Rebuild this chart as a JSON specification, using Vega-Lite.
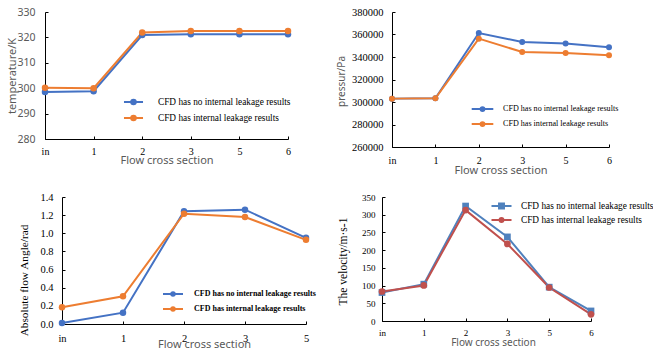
{
  "$schema": "https://vega.github.io/schema/vega-lite/v6.json",
  "background": "white",
  "padding": {"left": 5, "top": 7, "right": 5, "bottom": 0},
  "datasets": {
    "temp": [
      {"section": "in", "series": "CFD has no internal leakage results", "value": 298.5},
      {"section": "1", "series": "CFD has no internal leakage results", "value": 298.8},
      {"section": "2", "series": "CFD has no internal leakage results", "value": 320.9},
      {"section": "3", "series": "CFD has no internal leakage results", "value": 321.2},
      {"section": "5", "series": "CFD has no internal leakage results", "value": 321.2},
      {"section": "6", "series": "CFD has no internal leakage results", "value": 321.2},
      {"section": "in", "series": "CFD has internal leakage results", "value": 300.2},
      {"section": "1", "series": "CFD has internal leakage results", "value": 300.0},
      {"section": "2", "series": "CFD has internal leakage results", "value": 321.9},
      {"section": "3", "series": "CFD has internal leakage results", "value": 322.5},
      {"section": "5", "series": "CFD has internal leakage results", "value": 322.5},
      {"section": "6", "series": "CFD has internal leakage results", "value": 322.5}
    ],
    "pres": [
      {"section": "in", "series": "CFD has no internal leakage results", "value": 303000},
      {"section": "1", "series": "CFD has no internal leakage results", "value": 303300},
      {"section": "2", "series": "CFD has no internal leakage results", "value": 361300},
      {"section": "3", "series": "CFD has no internal leakage results", "value": 353300},
      {"section": "5", "series": "CFD has no internal leakage results", "value": 352100},
      {"section": "6", "series": "CFD has no internal leakage results", "value": 348600},
      {"section": "in", "series": "CFD has internal leakage results", "value": 303000},
      {"section": "1", "series": "CFD has internal leakage results", "value": 303300},
      {"section": "2", "series": "CFD has internal leakage results", "value": 356300},
      {"section": "3", "series": "CFD has internal leakage results", "value": 344400},
      {"section": "5", "series": "CFD has internal leakage results", "value": 343600},
      {"section": "6", "series": "CFD has internal leakage results", "value": 341500}
    ],
    "angle": [
      {"section": "in", "series": "CFD has no internal leakage results", "value": 0.011},
      {"section": "1", "series": "CFD has no internal leakage results", "value": 0.125},
      {"section": "2", "series": "CFD has no internal leakage results", "value": 1.242},
      {"section": "3", "series": "CFD has no internal leakage results", "value": 1.26},
      {"section": "5", "series": "CFD has no internal leakage results", "value": 0.95},
      {"section": "in", "series": "CFD has internal leakage results", "value": 0.184},
      {"section": "1", "series": "CFD has internal leakage results", "value": 0.306},
      {"section": "2", "series": "CFD has internal leakage results", "value": 1.216},
      {"section": "3", "series": "CFD has internal leakage results", "value": 1.179},
      {"section": "5", "series": "CFD has internal leakage results", "value": 0.928}
    ],
    "vel": [
      {"section": "in", "series": "CFD has no internal leakage results", "value": 80.4},
      {"section": "1", "series": "CFD has no internal leakage results", "value": 104},
      {"section": "2", "series": "CFD has no internal leakage results", "value": 324.5},
      {"section": "3", "series": "CFD has no internal leakage results", "value": 237.4},
      {"section": "5", "series": "CFD has no internal leakage results", "value": 95.5},
      {"section": "6", "series": "CFD has no internal leakage results", "value": 28.4},
      {"section": "in", "series": "CFD has internal leakage results", "value": 83.3},
      {"section": "1", "series": "CFD has internal leakage results", "value": 100.3},
      {"section": "2", "series": "CFD has internal leakage results", "value": 313},
      {"section": "3", "series": "CFD has internal leakage results", "value": 217.6},
      {"section": "5", "series": "CFD has internal leakage results", "value": 94.6},
      {"section": "6", "series": "CFD has internal leakage results", "value": 18.9}
    ],
    "none": []
  },
  "spacing": 17,
  "resolve": {"scale": {"color": "independent"}, "legend": {"color": "independent"}},
  "vconcat": [
    {
      "hconcat": [
        {
          "width": 243, "height": 127,
          "data": {"name": "temp"},
          "mark": {"type": "line", "strokeWidth": 2, "point": {"filled": true, "size": 42}},
          "encoding": {
            "x": {"field": "section", "type": "ordinal", "sort": null,
              "scale": {"type": "point", "padding": 0, "domain": ["in", "1", "2", "3", "5", "6"]},
              "axis": {"title": "Flow cross section", "titleFont": "Noto Sans", "titleFontSize": 11, "titleColor": "#595959", "titleBaseline": "middle", "titleY": 21,
                "labelFont": "Liberation Serif", "labelFontSize": 10, "labelColor": "#000", "labelAngle": 0, "labelBaseline": "middle", "labelPadding": 15}},
            "y": {"field": "value", "type": "quantitative",
              "scale": {"domain": [280, 330], "nice": false, "zero": false},
              "axis": {"values": [280, 290, 300, 310, 320, 330], "title": "temperature/K", "titleFont": "Noto Sans", "titleFontSize": 11, "titleColor": "#595959", "titleBaseline": "middle", "titleX": -33,
                "labelFont": "Noto Sans", "labelFontSize": 10.5, "labelColor": "#595959", "labelPadding": 13}},
            "color": {"field": "series", "type": "nominal",
              "scale": {"domain": ["CFD has no internal leakage results", "CFD has internal leakage results"], "range": ["#4472C4", "#ED7D31"]},
              "legend": {"orient": "none", "legendX": 79, "legendY": 80.5, "title": null, "padding": 0, "rowPadding": 0,
                "symbolSize": 289, "symbolType": "M-1.12,0H1.12M-0.27,0A0.27,0.27,0,1,0,0.27,0A0.27,0.27,0,1,0,-0.27,0", "symbolStrokeWidth": 2,
                "labelFont": "Liberation Serif", "labelFontSize": 9.3, "labelColor": "#000", "labelLimit": 300, "labelOffset": 15,
                "encode": {"symbols": {"update": {
                  "fill": {"signal": "datum.value === 'CFD has no internal leakage results' ? '#4472C4' : '#ED7D31'"},
                  "stroke": {"signal": "datum.value === 'CFD has no internal leakage results' ? '#4472C4' : '#ED7D31'"}}}}}}
          }
        },
        {
          "width": 217, "height": 135,
          "data": {"name": "pres"},
          "mark": {"type": "line", "strokeWidth": 2, "point": {"filled": true, "size": 36}},
          "encoding": {
            "x": {"field": "section", "type": "ordinal", "sort": null,
              "scale": {"type": "point", "padding": 0, "domain": ["in", "1", "2", "3", "5", "6"]},
              "axis": {"title": "Flow cross section", "titleFont": "Noto Sans", "titleFontSize": 11, "titleColor": "#595959", "titleBaseline": "middle", "titleY": 23,
                "labelFont": "Liberation Serif", "labelFontSize": 10, "labelColor": "#000", "labelAngle": 0, "labelBaseline": "middle", "labelPadding": 16}},
            "y": {"field": "value", "type": "quantitative",
              "scale": {"domain": [260000, 380000], "nice": false, "zero": false},
              "axis": {"values": [260000, 280000, 300000, 320000, 340000, 360000, 380000], "format": "d", "title": "pressur/Pa", "titleFont": "Noto Sans", "titleFontSize": 10, "titleColor": "#595959", "titleBaseline": "middle", "titleX": -51, "titleY": 69,
                "labelFont": "Liberation Serif", "labelFontSize": 10.5, "labelColor": "#000", "labelPadding": 12}},
            "color": {"field": "series", "type": "nominal",
              "scale": {"domain": ["CFD has no internal leakage results", "CFD has internal leakage results"], "range": ["#4472C4", "#ED7D31"]},
              "legend": {"orient": "none", "legendX": 82, "legendY": 88.5, "title": null, "padding": 0, "rowPadding": 0,
                "symbolSize": 225, "symbolType": "M-1.44,0H1.44M-0.25,0A0.25,0.25,0,1,0,0.25,0A0.25,0.25,0,1,0,-0.25,0", "symbolStrokeWidth": 2,
                "labelFont": "Liberation Serif", "labelFontSize": 8.1, "labelColor": "#000", "labelLimit": 300, "labelOffset": 12,
                "encode": {"symbols": {"update": {
                  "fill": {"signal": "datum.value === 'CFD has no internal leakage results' ? '#4472C4' : '#ED7D31'"},
                  "stroke": {"signal": "datum.value === 'CFD has no internal leakage results' ? '#4472C4' : '#ED7D31'"}}}}}}
          }
        }
      ],
      "bounds": "flush",
      "spacing": 104,
      "resolve": {"scale": {"color": "independent"}, "legend": {"color": "independent"}}
    },
    {
      "hconcat": [
        {
          "width": 1, "height": 1,
          "data": {"name": "none"},
          "mark": {"type": "point"},
          "encoding": {}
        },
        {
          "hconcat": [
            {
              "width": 244, "height": 127,
              "data": {"name": "angle"},
              "mark": {"type": "line", "strokeWidth": 2, "point": {"filled": true, "size": 42}},
              "encoding": {
                "x": {"field": "section", "type": "ordinal", "sort": null,
                  "scale": {"type": "point", "padding": 0, "domain": ["in", "1", "2", "3", "5"]},
                  "axis": {"title": "Flow cross section", "titleFont": "Noto Sans", "titleFontSize": 11, "titleColor": "#595959", "titleBaseline": "middle", "titleY": 20, "titleX": 142,
                    "labelFont": "Liberation Serif", "labelFontSize": 10.5, "labelColor": "#000", "labelAngle": 0, "labelBaseline": "middle", "labelPadding": 17}},
                "y": {"field": "value", "type": "quantitative",
                  "scale": {"domain": [0, 1.4], "nice": false},
                  "axis": {"values": [0, 0.2, 0.4, 0.6, 0.8, 1.0, 1.2, 1.4], "format": ".1f", "title": "Absolute flow Angle/rad", "titleFont": "Liberation Serif", "titleFontSize": 11.3, "titleColor": "#000", "titleBaseline": "middle", "titleX": -38, "titleY": 83,
                    "labelFont": "Liberation Serif", "labelFontSize": 10.5, "labelColor": "#000", "labelPadding": 12}},
                "color": {"field": "series", "type": "nominal",
                  "scale": {"domain": ["CFD has no internal leakage results", "CFD has internal leakage results"], "range": ["#4472C4", "#ED7D31"]},
                  "legend": {"orient": "none", "legendX": 102, "legendY": 88, "title": null, "padding": 0, "rowPadding": 0,
                    "symbolSize": 256, "symbolType": "M-1.25,0H1.25M-0.22,0A0.22,0.22,0,1,0,0.22,0A0.22,0.22,0,1,0,-0.22,0", "symbolStrokeWidth": 2,
                    "labelFont": "Liberation Serif", "labelFontSize": 8, "labelFontWeight": "bold", "labelColor": "#000", "labelLimit": 300, "labelOffset": 12,
                    "encode": {"symbols": {"update": {
                      "fill": {"signal": "datum.value === 'CFD has no internal leakage results' ? '#4472C4' : '#ED7D31'"},
                      "stroke": {"signal": "datum.value === 'CFD has no internal leakage results' ? '#4472C4' : '#ED7D31'"}}}}}}
              }
            },
            {
              "width": 209, "height": 124,
              "data": {"name": "vel"},
              "encoding": {
                "x": {"field": "section", "type": "ordinal", "sort": null,
                  "scale": {"type": "point", "padding": 0, "domain": ["in", "1", "2", "3", "5", "6"]},
                  "axis": {"title": "Flow cross section", "titleFont": "Noto Sans", "titleFontSize": 10, "titleColor": "#595959", "titleBaseline": "middle", "titleY": 21, "titleX": 111,
                    "labelFont": "Liberation Serif", "labelFontSize": 9, "labelColor": "#000", "labelAngle": 0, "labelBaseline": "middle", "labelPadding": 14}},
                "y": {"field": "value", "type": "quantitative",
                  "scale": {"domain": [0, 350], "nice": false},
                  "axis": {"values": [0, 50, 100, 150, 200, 250, 300, 350], "title": "The velocity/m·s-1", "titleFont": "Liberation Serif", "titleFontSize": 11.5, "titleColor": "#000", "titleBaseline": "middle", "titleX": -38.5, "titleY": 64,
                    "labelFont": "Liberation Serif", "labelFontSize": 9, "labelColor": "#000", "labelPadding": 10}},
                "color": {"field": "series", "type": "nominal",
                  "scale": {"domain": ["CFD has no internal leakage results", "CFD has internal leakage results"], "range": ["#4F81BD", "#C0504D"]},
                  "legend": {"orient": "none", "legendX": 112, "legendY": 1.5, "title": null, "padding": 0, "rowPadding": 0,
                    "symbolSize": 169, "symbolStrokeWidth": 2,
                    "labelFont": "Liberation Serif", "labelFontSize": 9.3, "labelColor": "#000", "labelLimit": 300, "labelOffset": 12,
                    "encode": {"symbols": {"update": {
                      "shape": {"signal": "datum.value === 'CFD has no internal leakage results' ? 'M-1.54,0H1.54M-0.38,-0.38H0.38V0.38H-0.38Z' : 'M-1.54,0H1.54M-0.3,0A0.3,0.3,0,1,0,0.3,0A0.3,0.3,0,1,0,-0.3,0'"},
                      "fill": {"signal": "datum.value === 'CFD has no internal leakage results' ? '#4F81BD' : '#C0504D'"},
                      "stroke": {"signal": "datum.value === 'CFD has no internal leakage results' ? '#4F81BD' : '#C0504D'"}}}}}}
              },
              "layer": [
                {"mark": {"type": "line", "strokeWidth": 2}},
                {"transform": [{"filter": "datum.series === 'CFD has no internal leakage results'"}],
                 "mark": {"type": "point", "shape": "square", "filled": true, "size": 45, "opacity": 1}},
                {"transform": [{"filter": "datum.series === 'CFD has internal leakage results'"}],
                 "mark": {"type": "point", "shape": "circle", "filled": true, "size": 45, "opacity": 1}}
              ]
            }
          ],
          "bounds": "flush",
          "spacing": 76,
          "resolve": {"scale": {"color": "independent"}, "legend": {"color": "independent"}}
        }
      ],
      "bounds": "flush",
      "spacing": 16,
      "resolve": {"scale": {"color": "independent"}, "legend": {"color": "independent"}}
    }
  ],
  "config": {
    "view": {"stroke": null},
    "axis": {"grid": false, "domainColor": "#000", "domainWidth": 1, "tickColor": "#000", "tickSize": -3, "tickWidth": 1, "labelFontWeight": "normal", "titleFontWeight": "normal"}
  }
}
